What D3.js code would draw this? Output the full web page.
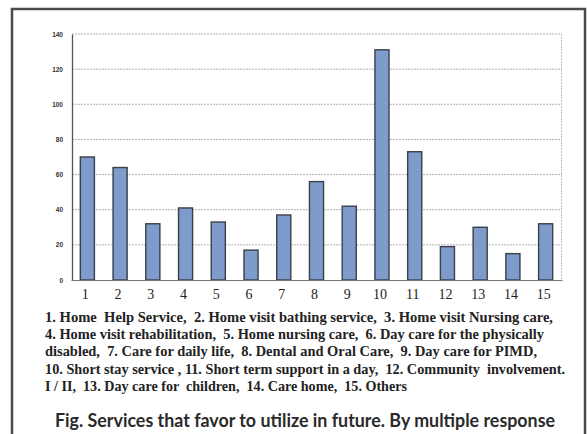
<!DOCTYPE html>
<html><head><meta charset="utf-8">
<script src="https://cdn.jsdelivr.net/npm/d3@7"></script>
<style>body{margin:0;background:#fff}svg{display:block}</style>
</head><body>
<svg id="c" width="587" height="434"></svg>
<script>
const categories = ["1","2","3","4","5","6","7","8","9","10","11","12","13","14","15"];
const values = [70, 64, 32, 41, 33, 17, 37, 56, 42, 131, 73, 19, 30, 15, 32];
const yTicks = [0, 20, 40, 60, 80, 100, 120, 140];
const legendLines = [
  "1. Home  Help Service,  2. Home visit bathing service,  3. Home visit Nursing care,",
  "4. Home visit rehabilitation,  5. Home nursing care,  6. Day care for the physically",
  "disabled,  7. Care for daily life,  8. Dental and Oral Care,  9. Day care for PIMD,",
  "10. Short stay service , 11. Short term support in a day,  12. Community  involvement.",
  "I / II,  13. Day care for  children,  14. Care home,  15. Others"
];
const caption = "Fig. Services that favor to utilize in future. By multiple response";

const svg = d3.select("#c");
// outer frame
svg.append("path").attr("d","M12,440 V9 H585 V440")
  .attr("fill","none").attr("stroke","#4a4a4a").attr("stroke-width",2.5);

const x = d3.scaleBand().domain(categories).range([71, 562]).paddingInner(0.57).paddingOuter(0.285);
const y = d3.scaleLinear().domain([0, 140]).range([280, 34]);

// gridlines
svg.append("g").selectAll("line").data(yTicks.filter(d=>d>0)).join("line")
  .attr("x1",72).attr("x2",562).attr("y1",d=>y(d)).attr("y2",d=>y(d))
  .attr("stroke","#b0b0b0").attr("stroke-width",1).attr("stroke-dasharray","2,1");
// right border of plot
svg.append("line").attr("x1",561.5).attr("x2",561.5).attr("y1",y(140)).attr("y2",y(0))
  .attr("stroke","#c0c0c0").attr("stroke-width",1).attr("stroke-dasharray","2,1");

// y axis
const yAxis = d3.axisLeft(y).tickValues(yTicks).tickSize(0).tickPadding(9);
const ga = svg.append("g").attr("transform","translate(72,0)").call(yAxis);
ga.select(".domain").attr("stroke","#555").attr("stroke-width",1.3);
ga.selectAll("text").attr("font-family","Arial, 'Liberation Sans', sans-serif")
  .attr("font-size",6.5).attr("font-weight","bold").attr("fill","#333");

// bars
svg.append("g").selectAll("rect").data(values).join("rect")
  .attr("x",(d,i)=>x(categories[i])).attr("width",x.bandwidth())
  .attr("y",d=>y(d)).attr("height",d=>y(0)-y(d))
  .attr("fill","#7e9ccb").attr("stroke","#3b3f48").attr("stroke-width",1.4);

// x axis
const xAxis = d3.axisBottom(x).tickSize(0).tickPadding(9);
const gx = svg.append("g").attr("transform","translate(0,280)").call(xAxis);
gx.select(".domain").attr("stroke","#777").attr("stroke-width",1.2);
gx.selectAll("text").attr("font-family","'Liberation Serif','Times New Roman',serif")
  .attr("font-size",14).attr("fill","#222").attr("dx",-2);

// legend text
svg.append("g").selectAll("text").data(legendLines).join("text")
  .attr("x",45).attr("y",(d,i)=>321.5+i*17.4)
  .attr("font-family","'Liberation Serif','Times New Roman',serif")
  .attr("font-size",14.5).attr("font-weight","bold").attr("fill","#222")
  .style("white-space","pre")
  .attr("textLength",(d,i)=>[508,499,492,520,362][i]).attr("lengthAdjust","spacingAndGlyphs")
  .text(d=>d);

svg.append("text").attr("x",305).attr("y",427).attr("text-anchor","middle")
  .attr("font-family","Lato, 'Open Sans', sans-serif").attr("font-size",18).attr("font-weight","bold")
  .attr("fill","#2a2a2a").attr("textLength",500).attr("lengthAdjust","spacingAndGlyphs")
  .text(caption);
</script>
</body></html>
